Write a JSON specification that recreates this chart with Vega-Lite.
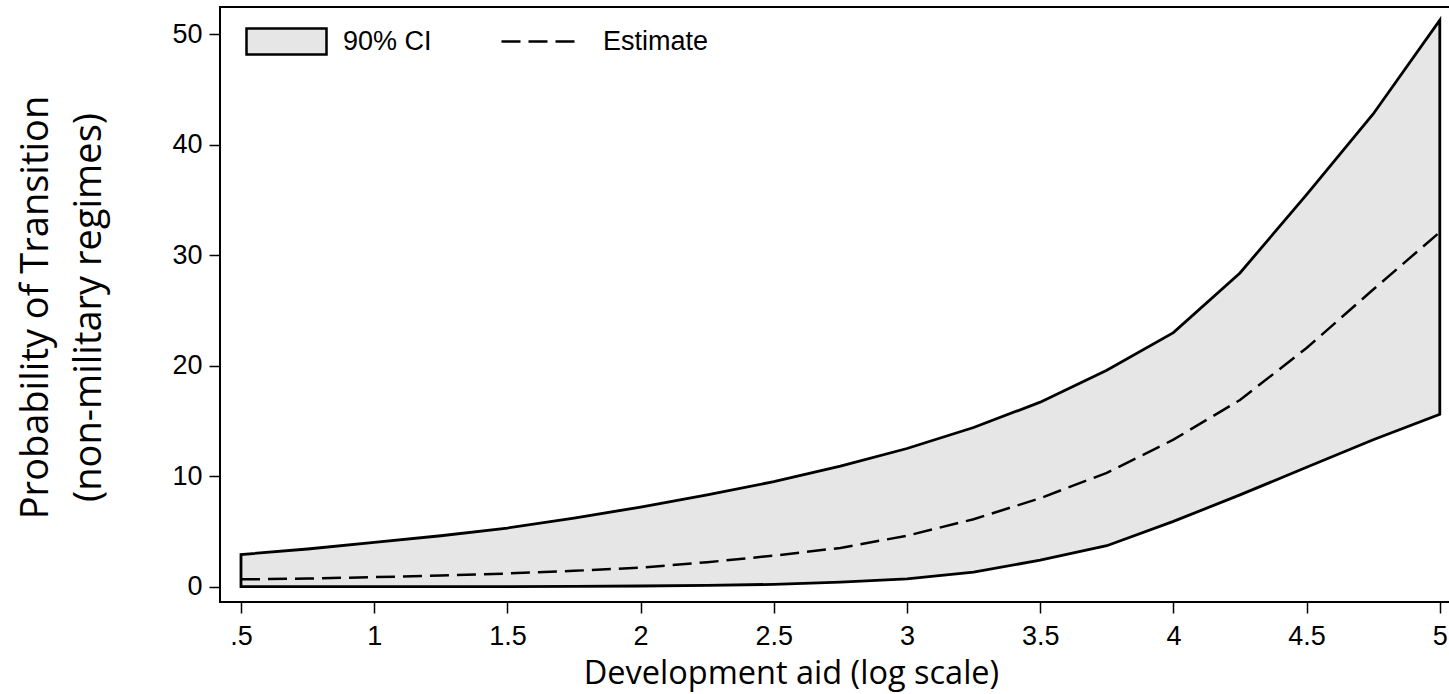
{
  "$schema": "https://vega.github.io/schema/vega-lite/v6.json",
  "width": 1230,
  "height": 595,
  "autosize": {"type": "none"},
  "padding": {"left": 220, "top": 7, "right": 0, "bottom": 92},
  "background": "white",
  "config": {
    "view": {"stroke": "black", "strokeWidth": 2},
    "axis": {
      "domain": false,
      "grid": false,
      "tickColor": "black",
      "tickWidth": 1.5,
      "tickSize": 11,
      "labelColor": "black",
      "labelFont": "Liberation Sans",
      "labelFontSize": 27,
      "titleColor": "black",
      "titleFont": "Open Sans",
      "titleFontWeight": "normal"
    },
    "legend": {
      "orient": "none",
      "direction": "horizontal",
      "padding": 0,
      "symbolSize": 6400,
      "symbolStrokeColor": "black",
      "symbolStrokeWidth": 2.5,
      "symbolOpacity": 1,
      "labelFont": "Liberation Sans",
      "labelFontSize": 27,
      "labelColor": "black"
    }
  },
  "data": {
    "values": [
      {"x": 0.5, "lo": 0, "hi": 2.9, "est": 0.65},
      {"x": 0.75, "lo": 0, "hi": 3.4, "est": 0.72},
      {"x": 1, "lo": 0, "hi": 4.0, "est": 0.85},
      {"x": 1.25, "lo": 0, "hi": 4.6, "est": 1.0},
      {"x": 1.5, "lo": 0, "hi": 5.3, "est": 1.18},
      {"x": 1.75, "lo": 0.02, "hi": 6.2, "est": 1.42},
      {"x": 2, "lo": 0.05, "hi": 7.2, "est": 1.72},
      {"x": 2.25, "lo": 0.1, "hi": 8.3, "est": 2.2},
      {"x": 2.5, "lo": 0.2, "hi": 9.5, "est": 2.8},
      {"x": 2.75, "lo": 0.4, "hi": 10.9, "est": 3.5},
      {"x": 3, "lo": 0.7, "hi": 12.5, "est": 4.6},
      {"x": 3.25, "lo": 1.3, "hi": 14.4, "est": 6.1},
      {"x": 3.5, "lo": 2.4, "hi": 16.7, "est": 8.0},
      {"x": 3.75, "lo": 3.7, "hi": 19.6, "est": 10.3},
      {"x": 4, "lo": 5.9, "hi": 23.0, "est": 13.3},
      {"x": 4.25, "lo": 8.3, "hi": 28.4, "est": 16.9},
      {"x": 4.5, "lo": 10.8, "hi": 35.5, "est": 21.6},
      {"x": 4.75, "lo": 13.3, "hi": 42.8, "est": 26.9},
      {"x": 5, "lo": 15.6, "hi": 51.3, "est": 32.1}
    ]
  },
  "layer": [
    {
      "mark": {"type": "area", "stroke": "black", "strokeWidth": 2.8, "strokeJoin": "miter", "fillOpacity": 1},
      "encoding": {
        "x": {
          "field": "x",
          "type": "quantitative",
          "scale": {"domain": [0.4212, 5.0383], "nice": false, "zero": false},
          "axis": {
            "values": [0.5, 1, 1.5, 2, 2.5, 3, 3.5, 4, 4.5, 5],
            "labelExpr": "datum.value == 0.5 ? '.5' : '' + datum.value",
            "labelPadding": 10,
            "title": "Development aid (log scale)",
            "titleFontSize": 32.5,
            "titleX": 571,
            "titleY": 81,
            "titleAlign": "center",
            "titleBaseline": "alphabetic"
          }
        },
        "y": {
          "field": "lo",
          "type": "quantitative",
          "scale": {"domain": [-1.4, 52.49], "nice": false, "zero": false},
          "axis": {
            "values": [0, 10, 20, 30, 40, 50],
            "labelPadding": 7,
            "title": ["Probability of Transition", "(non-military regimes)"],
            "titleFontSize": 38,
            "titleAngle": -90,
            "titleX": -173,
            "titleY": 300,
            "titleAlign": "center",
            "titleBaseline": "alphabetic",
            "titleLineHeight": 53
          }
        },
        "y2": {"field": "hi"},
        "fill": {
          "datum": "90% CI",
          "scale": {"domain": ["90% CI"], "range": ["#e6e6e6"]},
          "legend": {
            "legendX": 25,
            "legendY": -7,
            "title": null,
            "symbolType": "M-1,-0.325H1V0.325H-1Z",
            "labelOffset": 15
          }
        }
      }
    },
    {
      "mark": {"type": "line", "color": "black", "strokeWidth": 2.5},
      "encoding": {
        "x": {"field": "x", "type": "quantitative"},
        "y": {"field": "est", "type": "quantitative"},
        "strokeDash": {
          "datum": "Estimate",
          "scale": {"domain": ["Estimate"], "range": [[19, 8]]},
          "legend": {
            "legendX": 280,
            "legendY": -7,
            "title": null,
            "symbolType": "M-1,0H1",
            "labelOffset": 20
          }
        }
      }
    }
  ]
}
